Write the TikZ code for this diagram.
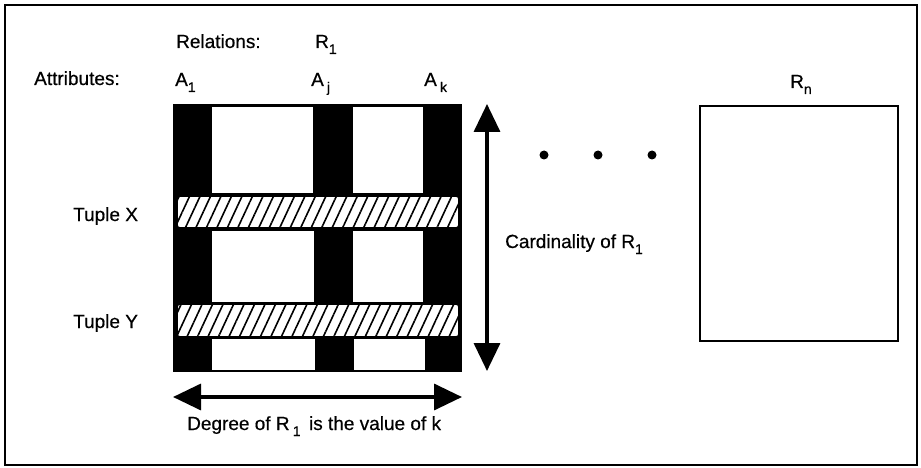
\documentclass[tikz,border=0pt]{standalone}
\usepackage{fontspec}
\setmainfont{Liberation Sans}[FakeBold=0.5]
\usetikzlibrary{arrows.meta,patterns.meta}
\newcommand\lowsub[1]{\raisebox{-6pt}{\fontsize{14}{14}\selectfont #1}}
\tikzset{
  lbl/.style={anchor=base west, inner sep=0pt, font=\fontsize{19}{21}\selectfont},
  whitebox/.style={fill=white},
  hatchband/.style={draw=black, line width=1.6pt, rounded corners=3pt,
    preaction={fill=white},
    pattern={Lines[angle=65,distance=9.5pt,line width=1.6pt]}},
  bigarrow/.style={line width=3.5pt,
    {Triangle[length=28pt,width=26pt]}-{Triangle[length=28pt,width=26pt]}},
  dotmark/.style={circle, fill=black, inner sep=0pt, minimum size=9pt}
}
\begin{document}
\begin{tikzpicture}[x=1pt,y=-1pt]
\useasboundingbox (0,0) rectangle (921,468);
% outer frame
\draw[line width=2.5pt] (5,5) rectangle (917,465);
% relation R1 table
\fill[black] (173,104) rectangle (462,372);
\fill[whitebox] (212,107) rectangle (313,193);
\fill[whitebox] (353,107) rectangle (423,193);
\fill[whitebox] (212,231) rectangle (314,302);
\fill[whitebox] (353,231) rectangle (423,302);
\fill[whitebox] (212,339) rectangle (315,370);
\fill[whitebox] (354,339) rectangle (425,370);
\path[hatchband] (177,196) rectangle (459,228);
\path[hatchband] (177,304) rectangle (459,337);
% Rn box
\draw[line width=2.2pt] (700,106) rectangle (898,341);
% arrows
\coordinate (vtop) at (487,104);
\coordinate (vbot) at (487,371);
\coordinate (hleft) at (173,397);
\coordinate (hright) at (462,397);
\draw[bigarrow] (vtop) -- (vbot);
\draw[bigarrow] (hleft) -- (hright);
% dots
\node[dotmark] (d1) at (544,155) {};
\node[dotmark] (d2) at (598,155) {};
\node[dotmark] (d3) at (652,155) {};
% labels
\node[lbl] (rel) at (176,48) {Relations:};
\node[lbl] (r1) at (315,48) {R\lowsub{1}};
\node[lbl] (attr) at (34,85) {Attributes:};
\node[lbl] (a1) at (175,86) {A\lowsub{1}};
\node[lbl] (aj) at (311,86) {A\,\lowsub{j}};
\node[lbl] (ak) at (424,86) {A\,\lowsub{k}};
\node[lbl] (rn) at (790,88) {R\lowsub{n}};
\node[lbl] (tx) at (73,221) {Tuple X};
\node[lbl] (ty) at (73,328) {Tuple Y};
\node[lbl] (card) at (505,248) {Cardinality of R\lowsub{1}};
\node[lbl] (deg) at (187,430) {Degree of R\,\lowsub{1}\, is the value of k};
\end{tikzpicture}
\end{document}
